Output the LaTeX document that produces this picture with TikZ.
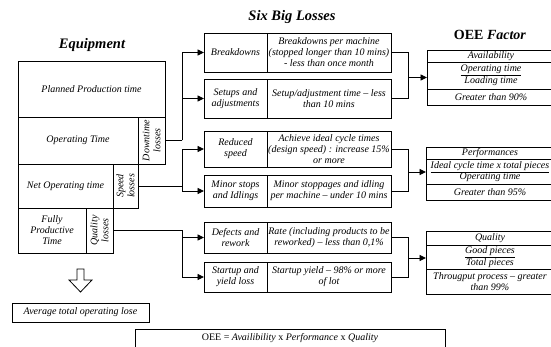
\documentclass[tikz,border=0pt]{standalone}
\usepackage{fontspec}
\setmainfont{Liberation Serif}
\usetikzlibrary{arrows.meta}

\begin{document}
\begin{tikzpicture}[x=1pt,y=-1pt,
  cell/.style={draw, line width=0.9pt, inner sep=1pt, outer sep=0pt, align=center,
    anchor=north west, font=\fontsize{10}{11}\selectfont\itshape},
  vcell/.style={cell, anchor=center, rotate=90},
  title/.style={font=\fontsize{14.5}{16}\selectfont\bfseries\itshape},
  link/.style={line width=0.9pt},
  arr/.style={line width=0.9pt, -{Triangle[length=6.5pt,width=6pt]}}
]
\useasboundingbox (0,0) rectangle (551,347);
\clip (0,0) rectangle (551,347);

% headings
\node[title] (tEq) at (92,45) {Equipment};
\node[title] (tSix) at (292,17) {Six Big Losses};
\node[font=\fontsize{14}{16}\selectfont\bfseries] (tOee) at (490,35) {OEE \textit{Factor}};

% equipment time breakdown
\node[cell, minimum width=147pt, minimum height=56pt] (pp) at (18,61) {Planned Production time};
\node[cell, minimum width=120pt, minimum height=47pt] (ot) at (18,117) {Operating Time};
\node[vcell, minimum width=47pt, minimum height=27pt] (dl) at (151.5,140.5) {Downtime\\losses};
\node[cell, minimum width=95pt, minimum height=44pt] (no) at (18,164) {Net Operating time};
\node[vcell, minimum width=44pt, minimum height=25pt] (sl) at (125.5,186) {Speed\\losses};
\node[cell, minimum width=68pt, minimum height=45pt] (fp) at (18,208) {Fully\\Productive\\Time};
\node[vcell, minimum width=45pt, minimum height=27pt] (ql) at (99.5,230.5) {Quality\\losses};

% six big losses: name cell + description cell
\node[cell, minimum width=63pt, minimum height=39pt] (bd) at (204,33) {Breakdowns};
\node[cell, minimum width=124pt, minimum height=39pt] (bdR) at (267,33) {Breakdowns per machine\\(stopped longer than 10 mins)\\- less than once month};
\node[cell, minimum width=63pt, minimum height=39pt] (su) at (204,79) {Setups and\\adjustments};
\node[cell, minimum width=124pt, minimum height=39pt] (suR) at (267,79) {Setup/adjustment time -- less\\than 10 mins};
\node[cell, minimum width=63pt, minimum height=36pt] (rs) at (204,131) {Reduced\\speed};
\node[cell, minimum width=124pt, minimum height=36pt] (rsR) at (267,131) {Achieve ideal cycle times\\(design speed) : increase 15\%\\or more};
\node[cell, minimum width=63pt, minimum height=32pt] (ms) at (204,175) {Minor stops\\and Idlings};
\node[cell, minimum width=124pt, minimum height=32pt] (msR) at (267,175) {Minor stoppages and idling\\per machine -- under 10 mins};
\node[cell, minimum width=63pt, minimum height=31pt] (dr) at (204,222) {Defects and\\rework};
\node[cell, minimum width=124pt, minimum height=31pt] (drR) at (267,222) {Rate (including products to be\\reworked) -- less than 0,1\%};
\node[cell, minimum width=63pt, minimum height=30pt] (sy) at (204,262) {Startup and\\yield loss};
\node[cell, minimum width=124pt, minimum height=30pt] (syR) at (267,262) {Startup yield -- 98\% or more\\of lot};

% OEE factor tables
\node[cell, minimum width=128pt, minimum height=12pt] (av1) at (427,50) {Availability};
\node[cell, minimum width=128pt, minimum height=27pt] (av2) at (427,62) {\underline{Operating time}\\Loading time};
\node[cell, minimum width=128pt, minimum height=16pt] (av3) at (427,89) {Greater than 90\%};
\node[cell, minimum width=128pt, minimum height=12pt] (pf1) at (426,147) {Performances};
\node[cell, minimum width=128pt, minimum height=25pt] (pf2) at (426,159) {\underline{Ideal cycle time x total pieces}\\Operating time};
\node[cell, minimum width=128pt, minimum height=16pt] (pf3) at (426,184) {Greater than 95\%};
\node[cell, minimum width=128pt, minimum height=14pt] (qu1) at (426,231) {Quality};
\node[cell, minimum width=128pt, minimum height=24pt] (qu2) at (426,245) {\underline{Good pieces}\\Total pieces};
\node[cell, minimum width=128pt, minimum height=25pt] (qu3) at (426,269) {Througput process -- greater\\than 99\%};

% junctions
\coordinate (j1) at (182,140.5);
\coordinate (j2) at (182,186);
\coordinate (j3) at (182,230.5);
\coordinate (k1t) at (408,52.5);
\coordinate (k1b) at (408,98.5);
\coordinate (k1) at (408,77.5);
\coordinate (k2t) at (408,149);
\coordinate (k2b) at (408,191);
\coordinate (k2) at (408,172);
\coordinate (k3t) at (408,237.5);
\coordinate (k3b) at (408,277);
\coordinate (k3) at (408,258);

% losses feeding the six big losses
\draw[link] (dl.south) -- (j1);
\draw[arr] (j1) |- (bd.west);
\draw[arr] (j1) |- (su.west);
\draw[link] (sl.south) -- (j2);
\draw[arr] (j2) |- (rs.west);
\draw[arr] (j2) |- (ms.west);
\draw[link] (ql.south) -- (j3);
\draw[arr] (j3) |- (dr.west);
\draw[arr] (j3) |- (sy.west);

% six big losses feeding the OEE factors
\draw[link] (bdR.east) -- (k1t) -- (k1b) -- (suR.east);
\draw[arr] (k1) -- (k1 -| av2.west);
\draw[link] (rsR.east) -- (k2t) -- (k2b) -- (msR.east);
\draw[arr] (k2) -- (k2 -| pf2.west);
\draw[link] (drR.east) -- (k3t) -- (k3b) -- (syR.east);
\draw[arr] (k3) -- (k3 -| qu2.west);

% hollow down arrow
\draw[line width=0.8pt] (77,269) -- (84,269) -- (84,280) -- (92,280) -- (80.5,292)
  -- (69,280) -- (77,280) -- cycle;

\node[cell, minimum width=137pt, minimum height=19pt] (avg) at (12,303) {Average total operating lose};

\node[cell, font=\fontsize{10}{11}\selectfont, inner sep=0pt, minimum width=310pt,
  text height=11pt, text depth=8pt] (oee) at (135,329)
  {OEE = \textit{Availibility} x \textit{Performance} x \textit{Quality}};
\end{tikzpicture}
\end{document}
